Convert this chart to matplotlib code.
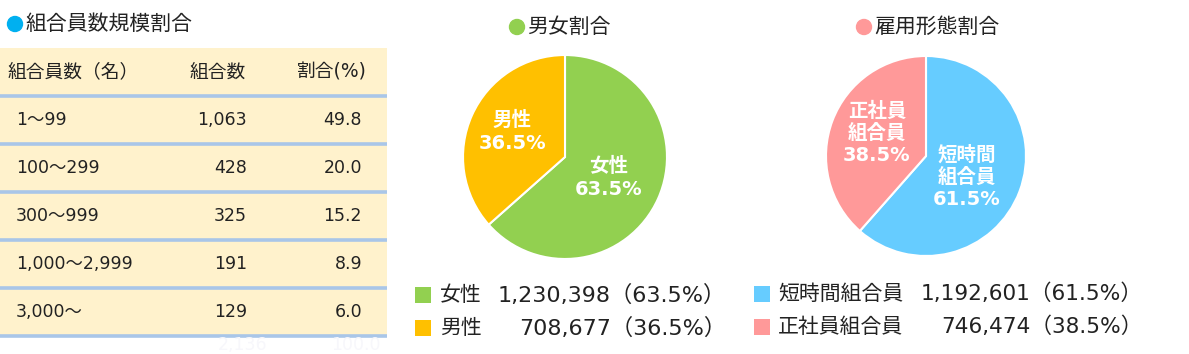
import matplotlib
matplotlib.use("Agg")
import matplotlib.pyplot as plt
from matplotlib.patches import Rectangle, Circle

plt.rcParams['font.family'] = ['DejaVu Sans', 'Noto Sans CJK JP']

# 組合員数規模割合
size_labels = ["1～99", "100～299", "300～999", "1,000～2,999", "3,000～"]
union_counts = [1063, 428, 325, 191, 129]
union_ratios = [49.8, 20.0, 15.2, 8.9, 6.0]
table_header = ["組合員数（名）", "組合数", "割合(%)"]

# 男女割合
sex_labels = ["女性", "男性"]
sex_counts = [1230398, 708677]
sex_ratios = [63.5, 36.5]

# 雇用形態割合
emp_labels = ["短時間組合員", "正社員組合員"]
emp_pie_labels = ["短時間\n組合員", "正社員\n組合員"]
emp_counts = [1192601, 746474]
emp_ratios = [61.5, 38.5]

W, H = 1189, 354
fig = plt.figure(figsize=(W / 100, H / 100), dpi=100)
bg = fig.add_axes([0, 0, 1, 1])
bg.set_xlim(0, W)
bg.set_ylim(H, 0)
bg.axis("off")

txt = "#222222"
line_c = "#A9C6E8"

# --- テーブル ---
bg.add_patch(Circle((15, 24), 7.5, color="#00B0F0"))
bg.text(26, 24, "組合員数規模割合", fontsize=15, va="center", color=txt)

row_h = 48
top = 48
bg.add_patch(Rectangle((0, top), 387, row_h * 6, color="#FFF2CC", lw=0))
bg.text(8, top + row_h / 2, table_header[0], fontsize=13.5, va="center", color=txt)
bg.text(246, top + row_h / 2, table_header[1], fontsize=13.5, va="center", ha="right", color=txt)
bg.text(367, top + row_h / 2, table_header[2], fontsize=13.5, va="center", ha="right", color=txt)
for i in range(len(size_labels)):
    yc = top + row_h * (i + 1.5)
    bg.text(16, yc, size_labels[i], fontsize=12.5, va="center", color=txt)
    bg.text(247, yc, f"{union_counts[i]:,}", fontsize=12.5, va="center", ha="right", color=txt)
    bg.text(362, yc, f"{union_ratios[i]:.1f}", fontsize=12.5, va="center", ha="right", color=txt)
for i in range(6):
    y = top + row_h * (i + 1)
    bg.plot([0, 387], [y, y], color=line_c, lw=2.6, solid_capstyle="butt")

# 合計(淡色)
bg.text(267, 345, f"{sum(union_counts):,}", fontsize=12.5, va="center", ha="right", color="#F7F7FB")
bg.text(381, 345, "100.0", fontsize=12.5, va="center", ha="right", color="#F7F7FB")


def pie_axes(cx, cy, r):
    return fig.add_axes([(cx - r) / W, (H - cy - r) / H, 2 * r / W, 2 * r / H])


# --- 男女割合 ---
bg.add_patch(Circle((517, 27), 7.5, color="#92D050"))
bg.text(527, 27, "男女割合", fontsize=15, va="center", color=txt)

sex_colors = ["#92D050", "#FFC000"]
ax1 = pie_axes(565, 157, 103)
ax1.pie(sex_counts, colors=sex_colors, startangle=90, counterclock=False,
        wedgeprops=dict(edgecolor="white", linewidth=1.5))
ax1.set_xlim(-1.01, 1.01)
ax1.set_ylim(-1.01, 1.01)

for i in range(2):
    y = 295 + 33 * i
    bg.add_patch(Rectangle((415, y - 8), 16, 16, color=sex_colors[i], lw=0))
    bg.text(440, y, sex_labels[i], fontsize=15, va="center", color=txt)
    bg.text(726, y, f"{sex_counts[i]:,}（{sex_ratios[i]}%）", fontsize=16, va="center",
            ha="right", color=txt)

# --- 雇用形態割合 ---
bg.add_patch(Circle((864, 27), 7.5, color="#FF9999"))
bg.text(874, 27, "雇用形態割合", fontsize=15, va="center", color=txt)

emp_colors = ["#66CCFF", "#FF9999"]
ax2 = pie_axes(926, 156, 101)
ax2.pie(emp_counts, colors=emp_colors, startangle=90, counterclock=False,
        wedgeprops=dict(edgecolor="white", linewidth=1.5))
ax2.set_xlim(-1.01, 1.01)
ax2.set_ylim(-1.01, 1.01)

for i in range(2):
    y = 294 + 33 * i
    bg.add_patch(Rectangle((754, y - 8), 16, 16, color=emp_colors[i], lw=0))
    bg.text(778, y, emp_labels[i], fontsize=15, va="center", color=txt)
    bg.text(1143, y, f"{emp_counts[i]:,}（{emp_ratios[i]}%）", fontsize=15.6, va="center",
            ha="right", color=txt)

# 円グラフ内ラベル(最前面)
fg = fig.add_axes([0, 0, 1, 1])
fg.set_xlim(0, W)
fg.set_ylim(H, 0)
fg.axis("off")
fg.patch.set_alpha(0)
fg.text(609, 178, f"{sex_labels[0]}\n{sex_ratios[0]}%", fontsize=14, color="white",
        ha="center", va="center", linespacing=1.3, fontweight="bold")
fg.text(512, 132, f"{sex_labels[1]}\n{sex_ratios[1]}%", fontsize=14, color="white",
        ha="center", va="center", linespacing=1.3, fontweight="bold")
fg.text(967, 177, f"{emp_pie_labels[0]}\n{emp_ratios[0]}%", fontsize=14, color="white",
        ha="center", va="center", linespacing=1.2, fontweight="bold")
fg.text(877, 133, f"{emp_pie_labels[1]}\n{emp_ratios[1]}%", fontsize=14, color="white",
        ha="center", va="center", linespacing=1.2, fontweight="bold")

fig.savefig("out.png", dpi=100, facecolor="white")
